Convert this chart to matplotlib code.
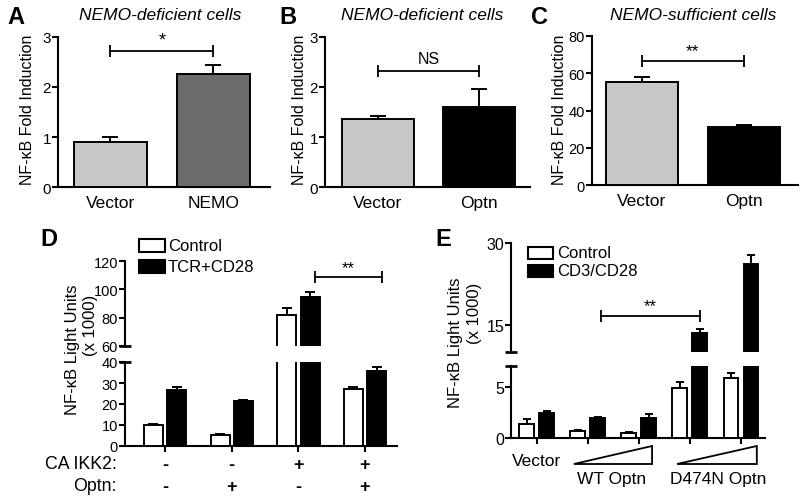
import matplotlib
matplotlib.use("Agg")
import matplotlib.pyplot as plt
from matplotlib.patches import Rectangle, Polygon
from matplotlib.transforms import blended_transform_factory
import numpy as np

plt.rcParams['font.family'] = ['Liberation Sans', 'DejaVu Sans']

# ---------------- data ----------------
a_labels = ['Vector', 'NEMO']
a_vals = [0.90, 2.26]
a_err = [0.10, 0.18]

b_labels = ['Vector', 'Optn']
b_vals = [1.36, 1.60]
b_err = [0.06, 0.36]

c_labels = ['Vector', 'Optn']
c_vals = [55.3, 31.0]
c_err = [2.8, 1.2]

d_control = [10.0, 5.3, 81.8, 27.1]
d_control_err = [0.4, 0.4, 5.0, 1.2]
d_tcr = [26.7, 21.4, 94.5, 35.7]
d_tcr_err = [1.4, 0.4, 3.6, 1.9]
d_ikk2 = ['-', '-', '+', '+']
d_optn = ['-', '+', '-', '+']

e_control = [1.35, 0.70, 0.50, 4.9, 5.85]
e_control_err = [0.5, 0.05, 0.08, 0.55, 0.5]
e_cd3 = [2.45, 1.95, 1.97, 13.5, 26.2]
e_cd3_err = [0.2, 0.05, 0.35, 0.8, 1.6]

W, H = 800, 502
fig = plt.figure(figsize=(W / 100, H / 100), dpi=100)


def px_axes(x0, y0, x1, y1):
    return fig.add_axes([x0 / W, 1 - y1 / H, (x1 - x0) / W, (y1 - y0) / H])


def fx(x):
    return x / W


def fy(y):
    return 1 - y / H


LW = 1.5
LIGHT = '#c8c8c8'
DARK = '#6b6b6b'


def style(ax, bottom=True, tick_size=11):
    for s in ['top', 'right']:
        ax.spines[s].set_visible(False)
    ax.spines['left'].set_linewidth(LW)
    ax.spines['bottom'].set_linewidth(LW)
    if not bottom:
        ax.spines['bottom'].set_visible(False)
    ax.tick_params(axis='y', direction='out', length=4, width=LW, labelsize=tick_size, pad=1)
    ax.patch.set_alpha(0)


def bracket(ax, x0, x1, y, text, tsize=12, tdy=0.0):
    ax.plot([x0, x1], [y, y], color='black', lw=1.3, clip_on=False, zorder=5)
    ax.plot([x0, x1], [y, y], ls='none', marker='|', ms=9, mew=1.3, color='black', clip_on=False, zorder=5)
    ax.text((x0 + x1) / 2, y + tdy, text, ha='center', va='bottom', fontsize=tsize, clip_on=False)


def simple_panel(rect, labels, vals, errs, colors, ylim, yticks, xlim):
    ax = px_axes(*rect)
    style(ax)
    x = np.arange(len(vals))
    ax.errorbar(x, vals, yerr=[np.zeros(len(vals)), errs], fmt='none', ecolor='black',
                elinewidth=1.4, capsize=6, capthick=1.4, zorder=2, clip_on=False)
    ax.bar(x, vals, width=0.71, color=colors, edgecolor='black', linewidth=1.4, zorder=3)
    ax.set_ylim(*ylim)
    ax.set_yticks(yticks)
    ax.set_xlim(*xlim)
    ax.set_xticks(x)
    ax.set_xticklabels(labels, fontsize=12.5)
    ax.tick_params(axis='x', length=0, pad=6)
    return ax


# ---------------- Panel A ----------------
axA = simple_panel((58, 38, 270, 188), a_labels, a_vals, a_err, [LIGHT, DARK], (0, 3), [0, 1, 2, 3], (-0.51, 1.55))
bracket(axA, 0, 1, 2.72, '*', tsize=13, tdy=0.05)
fig.text(fx(28), fy(110), 'NF-κB Fold Induction', rotation=90, ha='center', va='center', fontsize=11.5)
fig.text(fx(160), fy(15), 'NEMO-deficient cells', ha='center', va='center', fontsize=12.5, style='italic')
fig.text(fx(16), fy(18), 'A', ha='center', va='center', fontsize=17, fontweight='bold')

# ---------------- Panel B ----------------
axB = simple_panel((325, 38, 530, 188), b_labels, b_vals, b_err, [LIGHT, 'black'], (0, 3), [0, 1, 2, 3], (-0.52, 1.5))
bracket(axB, 0, 1, 2.32, 'NS', tsize=11.5, tdy=0.1)
fig.text(fx(300), fy(110), 'NF-κB Fold Induction', rotation=90, ha='center', va='center', fontsize=11.5)
fig.text(fx(422), fy(15), 'NEMO-deficient cells', ha='center', va='center', fontsize=12.5, style='italic')
fig.text(fx(288), fy(18), 'B', ha='center', va='center', fontsize=17, fontweight='bold')

# ---------------- Panel C ----------------
axC = simple_panel((592, 37, 798, 186), c_labels, c_vals, c_err, [LIGHT, 'black'], (0, 80), [0, 20, 40, 60, 80], (-0.49, 1.53))
axC.tick_params(axis='y', labelsize=10.5)
bracket(axC, 0, 1, 66.5, '**', tsize=12.5, tdy=1.5)
fig.text(fx(559), fy(110), 'NF-κB Fold Induction', rotation=90, ha='center', va='center', fontsize=11.5)
fig.text(fx(693), fy(15), 'NEMO-sufficient cells', ha='center', va='center', fontsize=12.5, style='italic')
fig.text(fx(540), fy(18), 'C', ha='center', va='center', fontsize=17, fontweight='bold')


def break_caps(ax_up, ax_lo):
    ax_up.plot([0], [0], marker='_', ms=9, mew=LW * 1.3, color='black', transform=ax_up.transAxes, clip_on=False)
    ax_lo.plot([0], [1], marker='_', ms=9, mew=LW * 1.3, color='black', transform=ax_lo.transAxes, clip_on=False)


def grouped(ax, x, off, width, v1, e1, v2, e2, capsize):
    ax.errorbar(x - off, v1, yerr=[np.zeros(len(v1)), e1], fmt='none', ecolor='black',
                elinewidth=1.4, capsize=capsize, capthick=1.4, zorder=2)
    ax.errorbar(x + off, v2, yerr=[np.zeros(len(v2)), e2], fmt='none', ecolor='black',
                elinewidth=1.4, capsize=capsize, capthick=1.4, zorder=2)
    ax.bar(x - off, v1, width=width, color='white', edgecolor='black', linewidth=1.4, zorder=3)
    ax.bar(x + off, v2, width=width, color='black', edgecolor='black', linewidth=1.4, zorder=3)


# ---------------- Panel D ----------------
xd = np.arange(len(d_control))
d_xlim = (-0.6, 3.48)
axDu = px_axes(125, 262, 397, 347)
axDl = px_axes(125, 363, 397, 447)
for ax in (axDu, axDl):
    grouped(ax, xd, 0.175, 0.285, d_control, d_control_err, d_tcr, d_tcr_err, 3.5)
    ax.set_xlim(*d_xlim)
style(axDu, bottom=False, tick_size=10.5)
style(axDl, tick_size=10.5)
axDu.set_ylim(60, 120)
axDu.set_yticks([60, 80, 100, 120])
axDl.set_ylim(0, 40)
axDl.set_yticks([0, 10, 20, 30, 40])
axDu.set_xticks([])
axDl.set_xticks(xd)
axDl.set_xticklabels([])
axDl.tick_params(axis='x', direction='out', length=4, width=LW)
break_caps(axDu, axDl)
bracket(axDu, 2.25, 3.25, 108.6, '**', tsize=12, tdy=1.5)

tr = blended_transform_factory(axDl.transData, fig.transFigure)
for i in range(len(xd)):
    axDl.text(xd[i], fy(466), d_ikk2[i], transform=tr, ha='center', va='center', fontsize=13, fontweight='bold')
    axDl.text(xd[i], fy(488), d_optn[i], transform=tr, ha='center', va='center', fontsize=13, fontweight='bold')
fig.text(fx(117), fy(465), 'CA IKK2:', ha='right', va='center', fontsize=12.8)
fig.text(fx(117), fy(487), 'Optn:', ha='right', va='center', fontsize=12.8)

fig.text(fx(72), fy(350), 'NF-κB Light Units', rotation=90, ha='center', va='center', fontsize=12)
fig.text(fx(90), fy(325), '(x 1000)', rotation=90, ha='center', va='center', fontsize=12)
fig.text(fx(49), fy(239), 'D', ha='center', va='center', fontsize=17, fontweight='bold')

# legend D
fig.add_artist(Rectangle((fx(139), fy(253)), fx(26), 13 / H, transform=fig.transFigure,
                         facecolor='white', edgecolor='black', linewidth=1.5))
fig.add_artist(Rectangle((fx(139), fy(274)), fx(26), 13 / H, transform=fig.transFigure,
                         facecolor='black', edgecolor='black', linewidth=1.5))
fig.text(fx(168), fy(247), 'Control', ha='left', va='center', fontsize=12)
fig.text(fx(168), fy(268), 'TCR+CD28', ha='left', va='center', fontsize=12)

# ---------------- Panel E ----------------
xe = np.arange(len(e_control))
e_xlim = (-0.5, 4.47)
axEu = px_axes(511, 244, 765, 353)
axEl = px_axes(511, 367, 765, 439)
for ax in (axEu, axEl):
    grouped(ax, xe, 0.196, 0.29, e_control, e_control_err, e_cd3, e_cd3_err, 3)
    ax.set_xlim(*e_xlim)
style(axEu, bottom=False, tick_size=11.5)
style(axEl, tick_size=11.5)
axEu.set_ylim(10, 30)
axEu.set_yticks([15, 30])
axEl.set_ylim(0, 7)
axEl.set_yticks([0, 5])
axEu.set_xticks([])
axEl.set_xticks(xe)
axEl.set_xticklabels([])
axEl.tick_params(axis='x', direction='out', length=4, width=LW)
break_caps(axEu, axEl)
bracket(axEu, 1.26, 3.2, 16.6, '**', tsize=12, tdy=0.5)

tre = blended_transform_factory(axEl.transData, fig.transFigure)
axEl.add_patch(Polygon([(0.73, fy(465)), (2.26, fy(465)), (2.26, fy(447))], closed=True, fill=False,
                       edgecolor='black', linewidth=1.3, transform=tre, clip_on=False))
axEl.add_patch(Polygon([(2.75, fy(465)), (4.31, fy(465)), (4.31, fy(447))], closed=True, fill=False,
                       edgecolor='black', linewidth=1.3, transform=tre, clip_on=False))
axEl.text(0, fy(462), 'Vector', transform=tre, ha='center', va='center', fontsize=12.5)
fig.text(fx(612), fy(480), 'WT Optn', ha='center', va='center', fontsize=12.5)
fig.text(fx(718), fy(480), 'D474N Optn', ha='center', va='center', fontsize=12.5)

fig.text(fx(456), fy(343), 'NF-κB Light Units', rotation=90, ha='center', va='center', fontsize=12)
fig.text(fx(474), fy(313), '(x 1000)', rotation=90, ha='center', va='center', fontsize=12)
fig.text(fx(443), fy(240), 'E', ha='center', va='center', fontsize=17, fontweight='bold')

fig.add_artist(Rectangle((fx(528), fy(260)), fx(25), 12 / H, transform=fig.transFigure,
                         facecolor='white', edgecolor='black', linewidth=1.5))
fig.add_artist(Rectangle((fx(528), fy(278)), fx(25), 12 / H, transform=fig.transFigure,
                         facecolor='black', edgecolor='black', linewidth=1.5))
fig.text(fx(557), fy(253), 'Control', ha='left', va='center', fontsize=12)
fig.text(fx(557), fy(272), 'CD3/CD28', ha='left', va='center', fontsize=12)

fig.savefig('out.png', dpi=100)
